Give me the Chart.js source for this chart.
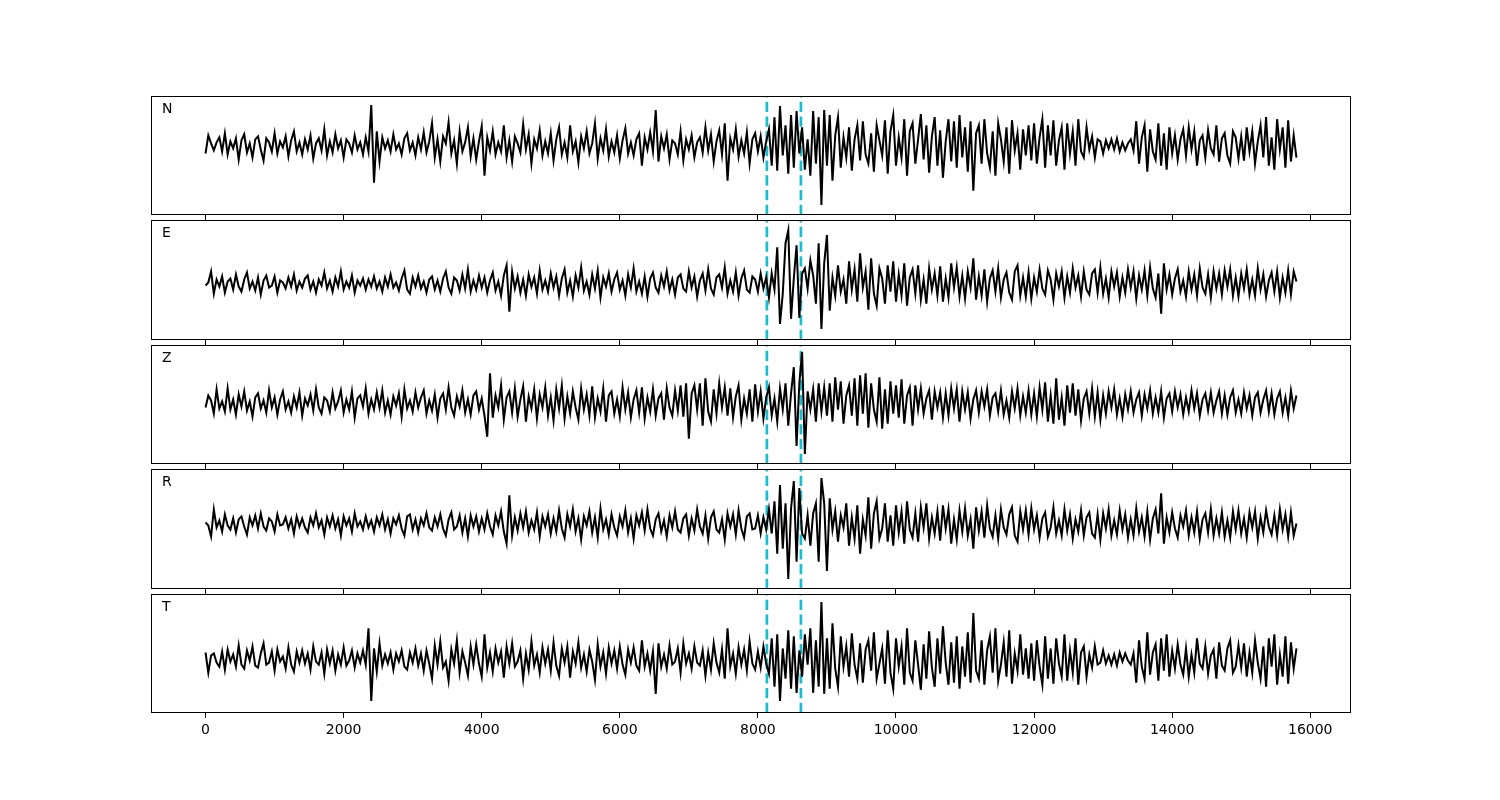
<!DOCTYPE html>
<html><head><meta charset="utf-8">
<script src="https://cdn.jsdelivr.net/npm/chart.js@4.4.1/dist/chart.umd.min.js"></script>
<style>
html,body{margin:0;padding:0;background:#fff;}
#wrap{position:relative;width:1500px;height:800px;}
canvas{position:absolute;left:0;top:0;}
</style>
</head><body><div id="wrap"></div>
<script>
// ---- data ----
const sampleStep = 40;               // samples between stored points
const xTickValues = [0, 2000, 4000, 6000, 8000, 10000, 12000, 14000, 16000];
const xLimits = [-790, 16590];
const markerTimes = [8130, 8623];
const componentNames = ['N', 'E', 'Z', 'R', 'T'];

const traceN = [
-8,10,2,-5,3,8,-6,12,-9,4,-3,7,-14,5,11,-7,2,-12,6,9,-4,-15,7,3,-6,
12,-8,4,-2,9,-11,5,14,-6,3,-9,6,-4,10,-13,2,7,-5,16,-10,4,-7,11,-3,5,
-12,6,2,-7,10,-4,3,-9,8,-6,40,-37,14,-16,8,-3,5,-6,11,-4,2,-9,7,12,-5,
3,-10,8,-4,13,-7,4,22,-12,6,-16,9,2,23,-8,5,-18,14,-6,3,18,-11,7,-14,4,
19,-30,8,-5,14,-9,3,-6,20,-12,5,-16,9,2,-7,21,-4,11,-18,6,-3,15,-10,4,-8,
12,-15,6,18,-9,3,-12,20,-6,4,-17,9,-3,14,-8,2,22,-13,7,-5,16,-11,4,-7,10,
-13,5,17,-8,3,-10,6,12,-20,8,-4,13,-6,35,-16,9,-3,11,-14,5,2,-9,14,-15,6,
-4,10,-12,3,8,-7,18,-5,11,-16,4,15,-9,22,-35,7,-4,16,-11,5,-8,13,-18,6,12,
-6,9,-12,4,16,-20,28,-25,39,-10,20,-28,30,-22,34,-8,18,-24,6,-30,34,-18,28,-59,35,
-20,30,-35,10,28,-22,8,-12,18,-25,6,20,-15,24,-9,-18,12,-26,20,5,-10,25,-28,14,30,
-20,8,-12,26,-30,14,22,-18,6,31,-14,20,-27,9,28,-20,15,-32,4,26,-16,24,-22,30,-12,
18,-26,24,-45,12,20,-18,26,-8,-22,14,-30,22,6,-16,18,-28,25,-5,12,-24,16,-10,20,-15,
22,-18,8,26,-22,20,-10,25,-20,5,18,-24,22,-8,14,-20,26,-6,-12,18,-4,9,-12,6,4,
-8,5,-3,6,-4,7,-6,3,-5,2,6,-5,24,-18,8,20,-26,16,-6,-14,22,-20,12,-24,18,
-8,10,-14,6,16,-10,18,-4,14,-20,5,10,-12,15,-3,-9,20,-16,7,12,-10,-18,14,8,-13,
9,-15,18,-6,14,-18,4,20,-12,28,-20,8,-24,26,-4,18,-22,25,-16,10,-12
];

const traceE = [
-2,1,12,-10,4,-3,7,-9,2,5,-6,9,-3,-8,4,11,-5,2,-7,6,-11,3,8,-4,-2,
7,-9,3,1,-5,6,-3,9,-7,2,-4,5,8,-6,2,-9,4,-2,11,-5,3,-8,6,-3,12,
-6,2,-4,8,-9,3,-2,5,-6,4,-3,7,-5,2,-8,6,-3,9,-4,1,-7,5,13,-6,-10,
6,-3,8,-5,2,-9,4,7,-6,3,-8,5,12,-4,-10,6,3,-7,9,-5,14,-8,3,-6,8,
-4,6,-9,3,11,-7,2,-12,8,18,-28,12,-5,7,-9,4,-12,9,-3,6,-10,13,-6,3,-8,
10,-4,7,-12,5,14,-9,3,-13,8,-4,16,-7,2,-11,9,-5,13,-14,6,-3,10,-8,4,11,
-6,3,-12,9,-4,15,-8,2,-10,7,-13,5,11,-4,-9,8,-3,12,-7,4,-11,6,9,-5,-8,
12,-4,7,-13,3,10,-7,14,-5,-11,6,9,-4,16,-10,3,-8,11,-12,5,13,-6,-9,7,4,
-8,10,-5,6,-14,10,-6,36,-40,-10,40,53,-35,5,38,-34,10,15,-5,23,8,-20,40,-45,20,
48,-27,6,-12,18,-8,4,-20,22,-6,14,-18,30,-4,12,-26,25,-10,-22,15,5,-20,18,-8,22,
-18,9,-12,20,-22,6,14,-10,18,-16,4,-20,15,-6,10,-12,17,-18,5,-14,20,-4,16,-13,8,
-15,12,-4,25,-16,7,-12,14,-18,5,13,-8,15,-14,4,11,-9,-16,12,18,-12,6,-13,11,-15,
6,-8,14,-5,-11,13,4,-16,10,-3,12,-14,7,-9,15,-4,8,-13,12,-6,-11,10,14,-9,16,
-10,5,-14,12,-3,11,-13,6,-9,14,-4,12,-15,8,-6,13,-12,16,-5,-14,10,-30,20,-6,9,
-11,5,14,-8,3,-13,12,-6,9,-12,15,-4,-10,9,-14,12,-5,10,-11,13,-3,14,-12,6,-13,
10,-5,14,-11,4,-12,15,-6,9,-13,3,11,-8,12,-14,6,-9,13,-11,12,2
];

const traceZ = [
-4,8,3,-10,14,-5,2,-8,15,-6,4,-11,9,-3,12,-7,2,-13,6,10,-5,3,-9,13,-4,
6,-11,4,12,-6,2,-9,7,-4,11,-12,5,-2,9,-7,14,-4,-10,6,3,-8,11,-5,2,13,
-9,4,-6,12,-14,5,8,-3,15,-10,4,-6,11,-4,13,-9,3,-11,7,-2,10,-13,14,-5,3,
-8,11,-4,6,13,-10,3,-7,9,-14,5,10,-6,16,-4,-12,7,-3,13,-9,4,-11,8,12,-6,
5,-12,-33,30,-14,8,-4,18,-16,6,12,-9,15,-13,4,17,-18,7,-5,14,-15,9,-4,16,-12,
6,-17,14,-5,18,-15,7,-10,12,-4,-16,15,-6,9,-12,17,-14,5,-8,15,-18,8,12,-10,4,
-13,16,-6,11,-14,4,13,-9,16,-15,6,-8,14,-12,5,10,-16,15,-4,-12,13,-7,18,-13,20,
-35,10,18,-6,20,-22,25,-8,-18,14,-10,20,-4,16,-12,15,-14,7,18,-16,5,-10,14,-18,19,
-8,12,-15,6,16,-12,5,-18,15,-6,20,-22,10,36,-42,20,51,-50,12,-6,14,-18,20,-8,16,
-12,20,-18,26,-6,22,-20,8,18,-12,25,-22,28,-10,30,-24,20,-6,-18,26,-25,14,-20,22,-10,
18,-14,24,-20,8,16,-22,18,-6,15,-10,5,13,-16,12,-4,11,-14,10,-12,15,-5,14,-18,12,
-6,11,-15,4,13,-9,12,-3,14,-12,6,10,-8,13,-11,3,-14,12,-5,15,-12,7,-9,13,-11,
10,-13,16,-6,21,-18,8,-20,25,-16,6,-22,18,-9,20,-12,14,-17,5,12,-10,15,-13,11,-16,
8,-10,12,-4,14,-11,5,-13,9,-6,12,-9,4,11,-12,9,-5,13,-10,6,-9,12,-14,5,10,
-8,12,-4,9,-11,6,-8,13,-5,10,-12,4,10,-7,11,-9,3,12,-10,8,-11,6,13,-9,4,
-10,11,-5,8,-12,6,11,-9,4,13,-8,10,-11,5,12,-9,6,-12,13,-5,8
];

const traceR = [
1,-2,-13,14,-4,3,-8,9,-2,-6,5,-9,4,7,-3,-11,6,-2,8,-5,10,-3,-7,5,2,
-8,9,-2,-1,6,-5,4,-10,7,-3,5,-4,-9,6,-2,10,-4,3,-11,6,-3,8,-5,4,-12,
7,-2,5,-8,10,-3,2,-6,7,-4,3,-8,6,-2,9,-6,4,-10,5,-1,8,-5,-12,7,9,
-6,4,-9,5,-2,10,-4,-7,6,-3,9,-5,-12,4,11,-6,-3,8,-9,5,-13,8,-3,7,-8,
5,-6,10,-3,-11,8,-2,12,-8,-20,28,-12,6,-7,10,-4,12,-9,3,-6,11,-13,7,-3,9,
-10,5,-8,13,-5,-14,9,-3,14,-8,5,-16,7,-2,12,-9,6,-14,15,-6,4,-11,9,-4,-12,
7,-3,13,-9,5,-15,8,-2,11,-7,14,-5,-12,4,10,-8,3,-13,8,-4,12,-6,-9,5,9,
-12,5,-7,14,-3,-10,8,-15,6,12,-6,-9,4,-16,10,-3,9,-11,13,-5,-14,7,10,-6,-5,
8,-10,6,-6,14,-10,22,-30,38,-25,20,-55,15,42,-38,35,-10,-15,8,-22,10,20,-38,45,20,
-47,25,-6,12,-18,8,-4,20,-22,6,-15,18,-30,4,-12,26,-25,10,22,-15,-5,20,-18,8,-22,
18,-9,12,-20,22,-6,-14,10,-18,16,-4,20,-15,6,-10,12,-17,18,-5,14,-20,4,-16,13,-8,
15,-12,4,-25,16,-7,12,-14,18,-5,-13,8,-15,14,-4,-11,9,16,-12,-18,12,-6,13,-11,15,
-6,8,-14,5,11,-13,-4,16,-10,3,-12,14,-7,9,-15,4,-8,13,-12,6,11,-10,-14,9,-16,
10,-5,14,-12,3,-11,13,-6,9,-14,4,-12,15,-8,6,-13,12,-16,5,14,-10,30,-20,6,-9,
11,-5,-14,8,-3,13,-12,6,-9,12,-15,4,10,-9,14,-12,5,-10,11,-13,3,-14,12,-6,13,
-10,5,-14,11,-4,12,-15,6,-9,13,-3,-11,8,-12,14,-6,9,-13,11,-12,0
];

const traceT = [
6,-14,3,5,-4,-8,7,-11,9,-3,4,-8,13,-6,-10,8,-2,12,-7,-9,5,15,-6,-4,7,
-12,9,-3,2,-10,11,-6,-13,7,-4,8,-5,5,-11,12,-3,-6,6,-15,9,-5,8,-12,4,-6,
11,-7,-2,8,-9,5,-4,8,-6,30,-42,10,-13,15,-7,4,-5,6,-11,5,-3,8,-8,-11,6,
-4,10,-7,5,-12,8,-5,-20,13,-6,17,-9,-3,-22,9,-5,18,-14,7,-4,-17,12,-6,14,-5,
-18,24,-9,6,-13,10,-4,7,-19,12,-5,15,-8,-3,8,-20,5,-11,17,-7,4,-14,11,-5,9,
-12,16,-7,-17,10,-4,12,-19,7,-5,16,-9,4,-13,9,-3,-21,14,-8,6,-15,11,-5,8,-10,
12,-6,-16,9,-4,11,-7,-12,18,-8,5,-12,7,-35,15,-8,4,-10,13,-6,-3,10,-14,15,-5,
5,-10,12,-4,-7,8,-17,6,-11,15,-4,-14,9,-20,30,-8,5,-15,11,-6,9,-12,17,-5,-11,
7,-9,12,-5,-15,20,-28,24,-42,10,-20,28,-30,22,-34,8,-18,24,-6,30,-34,18,-28,56,-35,
20,-30,35,-10,-28,22,-8,12,-18,25,-6,-20,15,-24,9,18,-12,26,-20,-5,10,-25,28,-14,-30,
20,-8,12,-26,30,-14,-22,18,-6,-31,14,-20,27,-9,-28,20,-15,32,-4,-26,16,-24,22,-30,12,
-18,26,-24,45,-12,-20,18,-26,8,22,-14,30,-22,-6,16,-18,28,-25,5,-12,24,-16,10,-20,15,
-22,18,-8,-26,22,-20,10,-25,20,-5,-18,24,-22,8,-14,20,-26,6,12,-18,4,-9,12,-6,-4,
8,-5,3,-6,4,-7,6,-3,5,-2,-6,5,-24,18,-8,-20,26,-16,6,14,-22,20,-12,24,-18,
8,-10,14,-6,-16,10,-18,4,-14,20,-5,-10,12,-15,3,9,-20,16,-7,-12,10,18,-14,-8,13,
-9,15,-18,6,-14,18,-4,-20,12,-28,20,-8,24,-26,4,-18,22,-25,16,-10,10
];

const traces = [traceN, traceE, traceZ, traceR, traceT];
const yLimits = [[-69, 49], [-56, 63], [-60, 58], [-65, 54], [-54, 64]];

// ---- layout (pixels) ----
const panelTops = [96, 220, 345, 469, 594];
const panelBottoms = [215, 340, 464, 589, 713];
const FONT = '"DejaVu Sans", "Liberation Sans", sans-serif';

const panelPlugin = {
  id: 'panelDecor',
  beforeDatasetsDraw(chart) {
    const {ctx, chartArea: a, scales: {x}} = chart;
    ctx.save();
    ctx.beginPath();
    ctx.rect(a.left, a.top, a.right - a.left, a.bottom - a.top);
    ctx.clip();
    ctx.strokeStyle = '#17becf';
    ctx.lineWidth = 2.7;
    ctx.setLineDash([10.3, 4.4]);
    markerTimes.forEach(t => {
      const px = x.getPixelForValue(t);
      ctx.beginPath();
      ctx.moveTo(px, a.bottom);
      ctx.lineTo(px, a.top);
      ctx.stroke();
    });
    ctx.restore();
  },
  afterDraw(chart, args, opts) {
    const {ctx, chartArea: a} = chart;
    ctx.save();
    ctx.strokeStyle = '#000';
    ctx.lineWidth = 1;
    ctx.strokeRect(a.left + 0.5, a.top + 0.5, a.right - a.left - 1, a.bottom - a.top - 1);
    ctx.fillStyle = '#000';
    ctx.font = '14px ' + FONT;
    ctx.textBaseline = 'alphabetic';
    ctx.textAlign = 'left';
    ctx.fillText(opts.label, a.left + 11, a.top + 17);
    ctx.restore();
  }
};

const wrap = document.getElementById('wrap');
traces.forEach((vals, k) => {
  const cv = document.createElement('canvas');
  cv.width = 1500; cv.height = 800;
  cv.style.width = '1500px'; cv.style.height = '800px';
  wrap.appendChild(cv);
  const last = k === traces.length - 1;
  const axisH = last ? 40 : 5;
  new Chart(cv.getContext('2d'), {
    type: 'line',
    data: {
      datasets: [{
        data: vals.map((v, i) => ({x: i * sampleStep, y: v})),
        borderColor: '#000',
        borderWidth: 2,
        pointRadius: 0,
        fill: false,
        tension: 0
      }]
    },
    options: {
      responsive: false,
      animation: false,
      devicePixelRatio: 1,
      events: [],
      layout: {padding: {left: 151, right: 149, top: panelTops[k], bottom: 800 - panelBottoms[k] - axisH}},
      plugins: {legend: {display: false}, tooltip: {enabled: false}, panelDecor: {label: componentNames[k]}},
      scales: {
        x: {
          type: 'linear',
          min: xLimits[0], max: xLimits[1],
          afterBuildTicks: s => { s.ticks = xTickValues.map(v => ({value: v})); },
          afterFit: s => { s.height = axisH; },
          grid: {display: true, drawOnChartArea: false, drawTicks: true, tickLength: 5, color: '#000', lineWidth: 1},
          border: {display: false},
          ticks: {display: last, color: '#000', font: {family: FONT, size: 14}, padding: 4, maxRotation: 0, autoSkip: false,
                  callback: v => String(v)}
        },
        y: {display: false, min: yLimits[k][0], max: yLimits[k][1]}
      }
    },
    plugins: [panelPlugin]
  });
});
</script>
</body></html>
